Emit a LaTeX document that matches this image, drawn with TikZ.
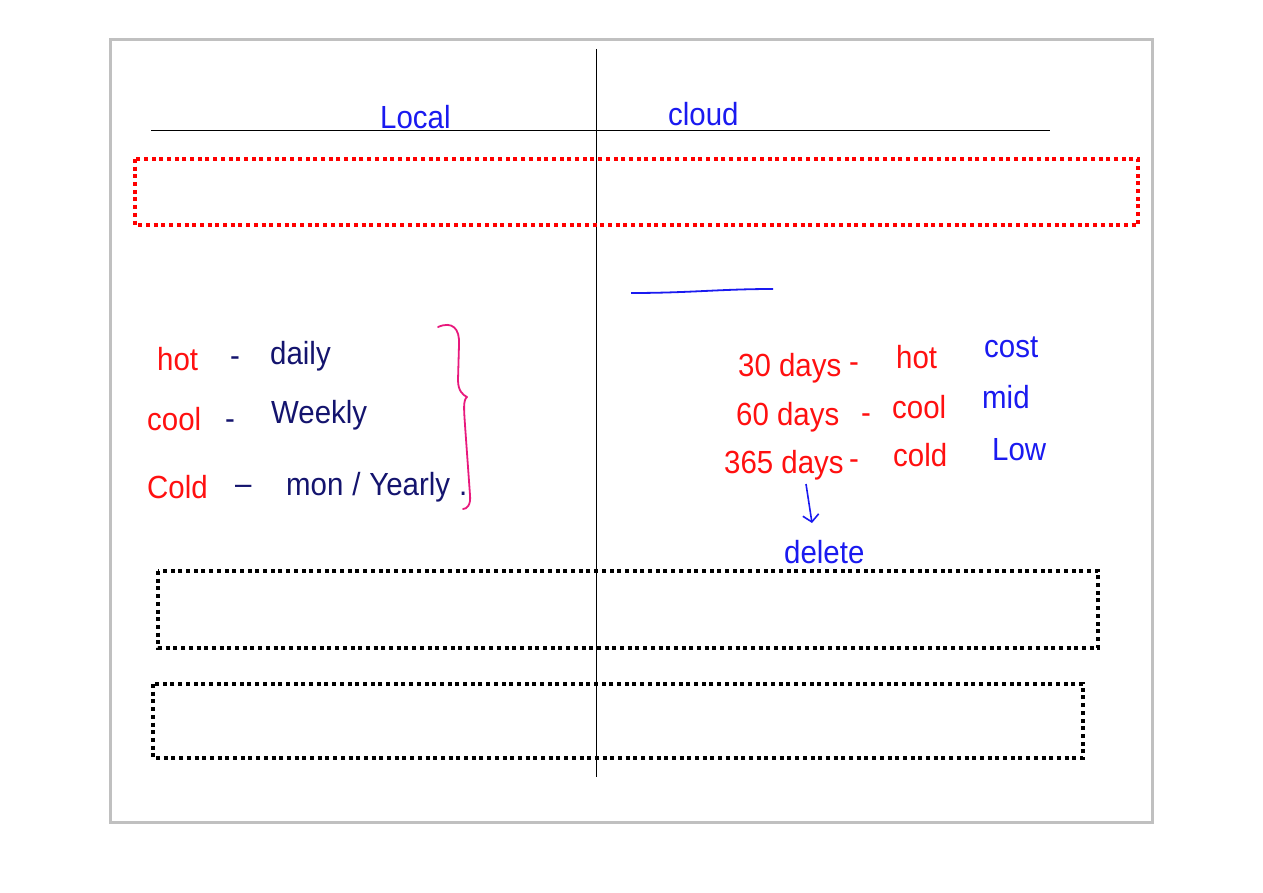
\documentclass[tikz,border=0pt]{standalone}
\usepackage{fontspec}
\newfontfamily\hand[FakeStretch=0.92]{Liberation Sans}
\usetikzlibrary{arrows.meta}
\definecolor{hred}{HTML}{FF1010}
\definecolor{hblue}{HTML}{1A1AF0}
\definecolor{hnavy}{HTML}{14146E}
\definecolor{hpink}{HTML}{E8197D}
\definecolor{frame}{HTML}{C0C0C0}
\begin{document}
\begin{tikzpicture}[x=1pt,y=-1pt,
  hw/.style={anchor=base west,inner sep=0pt,font=\hand\fontsize{32}{36}\selectfont},
  hr/.style={hw,text=hred},
  hb/.style={hw,text=hblue},
  hn/.style={hw,text=hnavy},
  reddot/.style={draw=red,line width=3.5pt,dash pattern=on 4pt off 3.7pt},
  blackdot/.style={draw=black,line width=3.5pt,dash pattern=on 4pt off 3.7pt},
  rule/.style={draw=black,line width=0.8pt}]
\useasboundingbox (0,0) rectangle (1263,893);
\fill[white] (0,0) rectangle (1263,893);
% frame
\draw[frame,line width=3pt] (110,40) rectangle (1152,822);
% rules
\draw[rule] (596,49) -- (596,777);
\draw[rule] (151,130) -- (1050,130);
% dotted boxes
\draw[reddot] (135,159) rectangle (1138,225);
\draw[blackdot] (158,571) rectangle (1098,648);
\draw[blackdot] (153,684) rectangle (1083,758);
% headings
\node[hb] (local) at (380,129) {Local};
\node[hb] (cloud) at (668,126) {cloud};
% left column
\node[hr] (lhot) at (157,370) {hot};
\node[hn] (ld1) at (230,366) {-};
\node[hn] (daily) at (270,364) {daily};
\node[hr] (lcool) at (147,430) {cool};
\node[hn] (ld2) at (225,429) {-};
\node[hn] (weekly) at (271,423) {Weekly};
\node[hr] (lcold) at (147,498) {Cold};
\node[hn] (ld3) at (235,494) {–};
\node[hn] (monyear) at (286,495) {mon\;/\;Yearly\;.};
% brace
\draw[hpink,line width=1.8pt,line cap=round,line join=round]
  (438,327) .. controls (452,321) and (460,328) .. (459,345)
  -- (458,380) .. controls (458,391) and (463,395) .. (467,397)
  .. controls (463,400) and (464,410) .. (465,425)
  -- (470,495) .. controls (471,505) and (467,509) .. (463,509);
% right column
\draw[hblue,line width=1.8pt] (631,293) .. controls (690,293) and (720,289) .. (773,289);
\node[hr] (d30) at (738,376) {30 days};
\node[hr] (rd1) at (849,372) {-};
\node[hr] (rhot) at (896,368) {hot};
\node[hb] (cost) at (984,357) {cost};
\node[hr] (d60) at (736,425) {60 days};
\node[hr] (rd2) at (861,423) {-};
\node[hr] (rcool) at (892,418) {cool};
\node[hb] (mid) at (982,408) {mid};
\node[hr] (d365) at (724,473) {365 days};
\node[hr] (rd3) at (849,469) {-};
\node[hr] (rcold) at (893,466) {cold};
\node[hb] (low) at (992,460) {Low};
\node[hb] (delete) at (784,563) {delete};
\coordinate (arrS) at (806,484);
\coordinate (arrE) at (812,523);
\draw[hblue,line width=1.6pt,-{Straight Barb[length=7pt,width=16pt]}] (arrS) -- (arrE);
\end{tikzpicture}
\end{document}
